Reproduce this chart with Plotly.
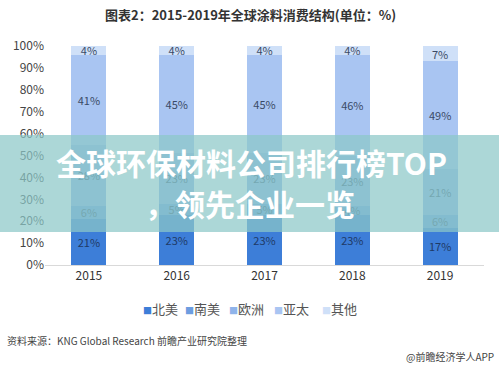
import plotly.graph_objects as go

years = ["2015", "2016", "2017", "2018", "2019"]
north_america = [21, 23, 23, 23, 17]
south_america = [6, 5, 5, 4, 6]
europe = [28, 23, 23, 23, 21]
asia_pacific = [41, 45, 45, 46, 49]
others = [4, 4, 4, 4, 7]

series = [
    ("北美", north_america, "#3d7ed8", "#1f3a66"),
    ("南美", south_america, "#6d9de0", "#3a5577"),
    ("欧洲", europe, "#8fb4ea", "#3a5577"),
    ("亚太", asia_pacific, "#a9c5f2", "#3a4a66"),
    ("其他", others, "#cfe0f8", "#3a4a66"),
]

fig = go.Figure()
for name, vals, color, tcolor in series:
    fig.add_trace(go.Bar(
        x=years, y=vals, name=name, marker_color=color,
        text=[f"{v}%" for v in vals], textposition="inside",
        insidetextanchor="middle",
        textfont=dict(size=11, color=tcolor, family="Noto Sans CJK SC"),
        marker_line_width=0, showlegend=False,
    ))

W, H = 499, 368
L, R, T, B = 45, 15, 46, 103
pw = W - L - R
ph = H - T - B

def px(x):
    return (x - L) / pw

def py(y):
    return (H - B - y) / ph

fig.update_layout(
    width=W, height=H,
    barmode="stack", bargap=0.6,
    margin=dict(l=L, r=R, t=T, b=B, autoexpand=False),
    plot_bgcolor="white", paper_bgcolor="white",
    font=dict(family="Noto Sans CJK SC", color="#444"),
    yaxis=dict(range=[0, 100], tickvals=[0, 10, 20, 30, 40, 50, 60, 70, 80, 90, 100],
               ticktext=[f"{v}%" for v in range(0, 101, 10)],
               showgrid=False, zeroline=False, tickfont=dict(size=12, color="#444"),
               ticks="", ticklen=0),
    xaxis=dict(showline=True, linecolor="#d9d9d9", linewidth=1, ticks="",
               tickfont=dict(size=12, color="#333")),
    showlegend=False,
    uniformtext=dict(mode="show", minsize=8),
)


def note(text, x, y, size, color, xanchor="center", bold=False):
    if bold:
        text = f"<b>{text}</b>"
    fig.add_annotation(text=text, xref="paper", yref="paper", x=px(x), y=py(y),
                       xanchor=xanchor, yanchor="middle", showarrow=False,
                       font=dict(size=size, color=color))


# legend drawn as a row of annotations
legend_x = [160, 202, 246, 291, 339]
for (name, vals, color, tcolor), lx in zip(series, legend_x):
    note(f"<span style='color:{color};font-size:9px'>■</span>{name}", lx, 308, 13, "#555")

note("图表2：2015-2019年全球涂料消费结构(单位：%)", 250, 15, 13, "#333", bold=True)

fig.add_shape(type="rect", xref="paper", yref="paper",
              x0=px(0), x1=px(W), y0=py(232), y1=py(135),
              fillcolor="rgba(140,200,200,0.72)", line_width=0, layer="above")

note("全球环保材料公司排行榜TOP", 251, 162, 30, "white", bold=True)
note("，领先企业一览", 250, 203, 30, "white", bold=True)

note("资料来源：KNG Global Research 前瞻产业研究院整理", 5, 340, 10, "#444", xanchor="left")
note("@前瞻经济学人APP", 496, 356, 10, "#444", xanchor="right")

fig.write_html("out.html", config={"displayModeBar": False},
               post_script="document.body.style.margin='0px';")
